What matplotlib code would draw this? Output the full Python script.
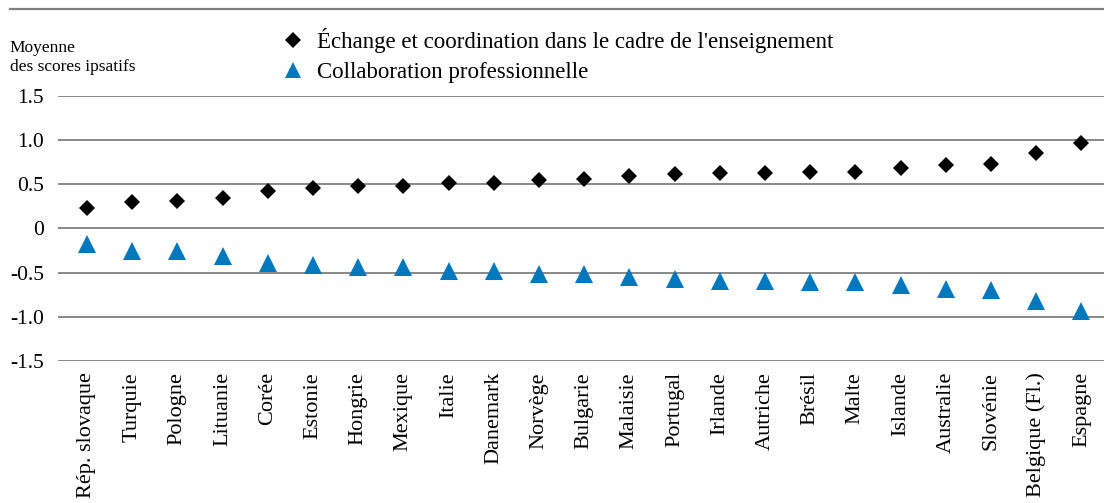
import numpy as np
import matplotlib.pyplot as plt
from matplotlib.lines import Line2D

plt.rcParams['font.family'] = ['Liberation Serif', 'DejaVu Serif']

# pays, triés par score "Échange et coordination"
pays = ["Rép. slovaque", "Turquie", "Pologne", "Lituanie", "Corée", "Estonie",
        "Hongrie", "Mexique", "Italie", "Danemark", "Norvège", "Bulgarie",
        "Malaisie", "Portugal", "Irlande", "Autriche", "Brésil", "Malte",
        "Islande", "Australie", "Slovénie", "Belgique (Fl.)", "Espagne"]

# moyenne des scores ipsatifs
echange = [0.23, 0.30, 0.31, 0.35, 0.43, 0.46, 0.48, 0.485, 0.52, 0.52,
           0.55, 0.56, 0.59, 0.615, 0.63, 0.63, 0.64, 0.64, 0.68, 0.72,
           0.735, 0.86, 0.97]
collab = [-0.18, -0.255, -0.26, -0.31, -0.385, -0.41, -0.44, -0.44, -0.48,
          -0.48, -0.51, -0.52, -0.55, -0.575, -0.59, -0.59, -0.605, -0.61,
          -0.635, -0.68, -0.695, -0.82, -0.93]

yticks = [-1.5, -1.0, -0.5, 0, 0.5, 1.0, 1.5]
ytick_labels = ["-1.5", "-1.0", "-0.5", "0", "0.5", "1.0", "1.5"]

label_echange = "Échange et coordination dans le cadre de l'enseignement"
label_collab = "Collaboration professionnelle"

blue = '#0078BE'
grey = '#7f7f7f'

fig = plt.figure(figsize=(11.04, 5.03), dpi=100)
ax = fig.add_axes([0.0525, 0.2823, 0.9475, 0.5269])

x = np.arange(len(pays))
for yv in yticks:
    ax.axhline(yv, color=grey, lw=1.3, zorder=1)
ax.plot(x, echange, 'D', color='black', ms=8.6, mew=0, zorder=3)
ax.plot(x, collab, '^', color=blue, ms=13, mew=0, zorder=3)

ax.set_ylim(-1.5, 1.5)
ax.set_xlim(-0.64, len(pays) - 0.5)
ax.set_yticks(yticks)
ax.set_yticklabels(ytick_labels, fontsize=15.5)
ax.set_xticks(x)
ax.set_xticklabels(pays, rotation=90, fontsize=16)
ax.tick_params(length=0, pad=8)
ax.tick_params(axis='y', pad=10)
for s in ax.spines.values():
    s.set_visible(False)

fig.text(0.009, 0.886, "Moyenne\ndes scores ipsatifs", fontsize=12.5,
         va='center', ha='left', linespacing=1.3)

handles = [Line2D([], [], ls='', marker='D', color='black', ms=8, mew=0),
           Line2D([], [], ls='', marker='^', color=blue, ms=11, mew=0)]
fig.legend(handles, [label_echange, label_collab], loc='upper left',
           bbox_to_anchor=(0.2405, 0.977), frameon=False, fontsize=16.5,
           handlelength=1.0, handletextpad=0.55, labelspacing=0.4,
           borderpad=0.2)

# filet sous le titre
fig.add_artist(Line2D([0.009, 1.0], [0.982, 0.982], color=grey, lw=1.6,
                      transform=fig.transFigure))

fig.savefig('out.png', dpi=100)
